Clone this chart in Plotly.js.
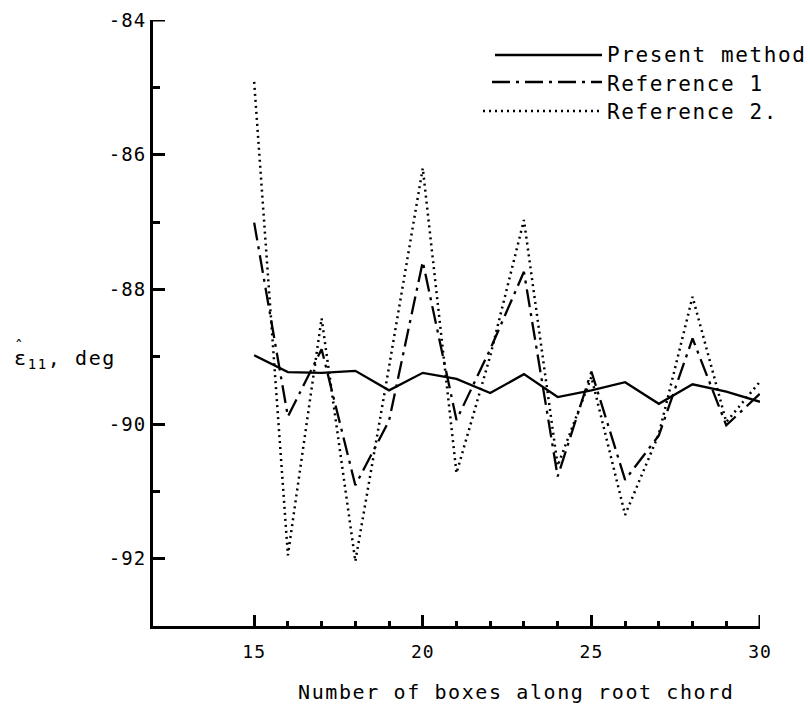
<!DOCTYPE html>
<html>
<head>
<meta charset="utf-8">
<script src="https://cdn.plot.ly/plotly-3.0.1.min.js"></script>
<style>
html, body { margin: 0; padding: 0; background: #ffffff; }
#chart { width: 810px; height: 710px; }
.annotation-text { letter-spacing: 1.6px; }
.xtick text, .ytick text { letter-spacing: 1px; }
</style>
</head>
<body>
<div id="chart"></div>
<script>
// ---- data ----
const boxes = [15, 16, 17, 18, 19, 20, 21, 22, 23, 24, 25, 26, 27, 28, 29, 30];
const presentMethod = [-88.98, -89.23, -89.24, -89.21, -89.50, -89.24, -89.33, -89.54, -89.26, -89.60, -89.50, -89.38, -89.70, -89.41, -89.52, -89.67];
const reference1    = [-87.01, -89.89, -88.89, -90.91, -89.95, -87.59, -89.94, -88.89, -87.74, -90.78, -89.22, -90.83, -90.17, -88.73, -90.02, -89.55];
const reference2    = [-84.92, -91.95, -88.43, -92.04, -89.15, -86.20, -90.73, -88.99, -86.97, -90.62, -89.30, -91.35, -90.15, -88.11, -89.97, -89.37];
const seriesNames = ['Present method', 'Reference 1', 'Reference 2.'];
const xMajorTicks = [15, 20, 25, 30];
const xMinorTicks = [16, 17, 18, 19, 21, 22, 23, 24, 26, 27, 28, 29];
const yMajorTicks = [-84, -86, -88, -90, -92];
const yMinorTicks = [-85, -87, -89, -91];
const xTitle = 'Number of boxes along root chord';
const yTitle = 'ε<sub>11</sub>, deg';

// ---- layout geometry (pixels) ----
const W = 810, H = 710;
const M = { l: 153, r: 50, t: 20, b: 84 };
const PW = W - M.l - M.r, PH = H - M.t - M.b;
const px = x => (x - M.l) / PW;          // pixel -> paper x
const py = y => (M.t + PH - y) / PH;      // pixel -> paper y
const X_RANGE = [12, 30], Y_RANGE = [-93, -84];

const FONT = 'DejaVu Sans Mono, monospace';
const dashes = ['solid', '18px,6px,3px,6px', '2px,4px'];
const widths = [2.3, 2.3, 2.5];
const series = [presentMethod, reference1, reference2];
const TICK_W = 3;

const traces = series.map((vals, i) => ({
  type: 'scatter', mode: 'lines', name: seriesNames[i],
  x: boxes, y: vals,
  line: { color: '#000', width: widths[i], dash: dashes[i] },
  showlegend: false, hoverinfo: 'skip'
}));

const shapes = [];
// Plotly drops inside ticks sitting on the range ends; draw those two on the axes' scales
shapes.push({ type: 'line', xref: 'x', yref: 'paper', x0: X_RANGE[1], x1: X_RANGE[1], y0: 0, y1: 11 / PH,
  line: { color: '#000', width: TICK_W } });
shapes.push({ type: 'line', xref: 'paper', yref: 'y', x0: 0, x1: 12 / PW, y0: Y_RANGE[1], y1: Y_RANGE[1],
  line: { color: '#000', width: TICK_W } });

// legend drawn as sample lines + text
const legendRows = [
  { x0: 495, y: 55, ty: 55 },
  { x0: 492, y: 82, ty: 84 },
  { x0: 483, y: 111, ty: 112 }
];
legendRows.forEach((r, i) => shapes.push({
  type: 'line', xref: 'paper', yref: 'paper',
  x0: px(r.x0), x1: px(602), y0: py(r.y), y1: py(r.y),
  line: { color: '#000', width: widths[i], dash: dashes[i] }
}));
const annotations = legendRows.map((r, i) => ({
  xref: 'paper', yref: 'paper', x: px(605), y: py(r.ty),
  xanchor: 'left', yanchor: 'middle', showarrow: false,
  text: seriesNames[i], font: { family: FONT, size: 21, color: '#000' }
}));
annotations.push({
  xref: 'paper', yref: 'paper', x: px(516), y: py(692),
  xanchor: 'center', yanchor: 'middle', showarrow: false,
  text: xTitle, font: { family: FONT, size: 20, color: '#000' }
});
annotations.push({
  xref: 'paper', yref: 'paper', x: px(12), y: py(359),
  xanchor: 'left', yanchor: 'middle', showarrow: false,
  text: yTitle, font: { family: FONT, size: 20, color: '#000' }
});
annotations.push({
  xref: 'paper', yref: 'paper', x: px(19), y: py(346),
  xanchor: 'center', yanchor: 'middle', showarrow: false,
  text: 'ˆ', font: { family: FONT, size: 16, color: '#000' }
});

const layout = {
  width: W, height: H,
  margin: M,
  paper_bgcolor: '#fff', plot_bgcolor: '#fff',
  showlegend: false,
  xaxis: {
    range: X_RANGE, showgrid: false, zeroline: false,
    showline: true, linecolor: '#000', linewidth: 3,
    tickmode: 'array', tickvals: xMajorTicks, ticktext: xMajorTicks.map(String),
    ticks: 'inside', ticklen: 11, tickwidth: TICK_W, tickcolor: '#000',
    ticklabelstandoff: 7,
    tickfont: { family: FONT, size: 18, color: '#000' },
    minor: { tickmode: 'array', tickvals: xMinorTicks, ticks: 'inside', ticklen: 5, tickwidth: TICK_W, tickcolor: '#000', showgrid: false }
  },
  yaxis: {
    range: Y_RANGE, showgrid: false, zeroline: false,
    showline: true, linecolor: '#000', linewidth: 3,
    tickmode: 'array', tickvals: yMajorTicks, ticktext: yMajorTicks.map(v => '-' + Math.abs(v)),
    ticks: 'inside', ticklen: 12, tickwidth: TICK_W, tickcolor: '#000',
    tickfont: { family: FONT, size: 19, color: '#000' },
    minor: { tickmode: 'array', tickvals: yMinorTicks, ticks: 'inside', ticklen: 7, tickwidth: TICK_W, tickcolor: '#000', showgrid: false }
  },
  shapes: shapes,
  annotations: annotations
};

Plotly.newPlot('chart', traces, layout, { staticPlot: true, displayModeBar: false });
</script>
</body>
</html>
